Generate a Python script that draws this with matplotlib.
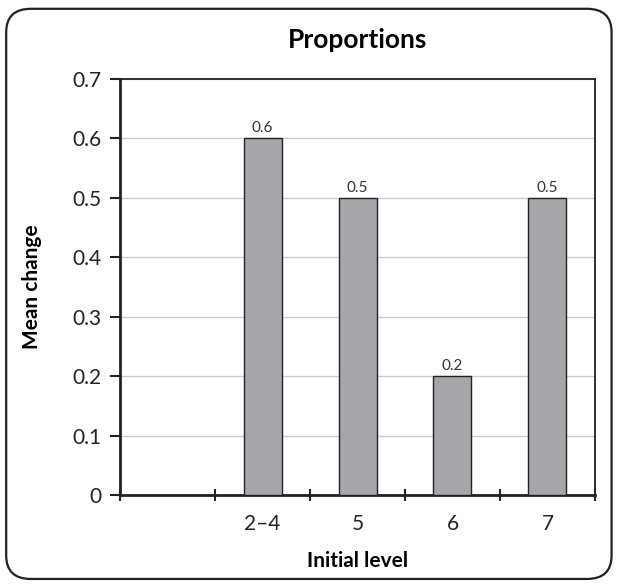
import matplotlib
matplotlib.use('Agg')
import matplotlib.pyplot as plt
from matplotlib.patches import FancyBboxPatch
import numpy as np

plt.rcParams['font.family'] = ['Lato', 'DejaVu Sans']

# data
categories = ['', '2–4', '5', '6', '7']
values = [None, 0.6, 0.5, 0.2, 0.5]
value_labels = ['', '0.6', '0.5', '0.2', '0.5']
y_ticks = [0, 0.1, 0.2, 0.3, 0.4, 0.5, 0.6, 0.7]
y_tick_labels = ['0', '0.1', '0.2', '0.3', '0.4', '0.5', '0.6', '0.7']

fig = plt.figure(figsize=(6.19, 5.86), dpi=100)
ax = fig.add_axes([0.1939, 0.1553, 0.7673, 0.7099])

# rounded outer frame
frame = FancyBboxPatch((0.01, 0.012), 0.978, 0.973,
                       boxstyle='round,pad=0,rounding_size=0.04',
                       transform=fig.transFigure, facecolor='none',
                       edgecolor='#222222', linewidth=1.6, zorder=0)
fig.patches.append(frame)

x = np.arange(len(categories))
for i, v in enumerate(values):
    if v is None:
        continue
    ax.bar(x[i], v, width=0.4, color='#a6a7ab', edgecolor='#222222',
           linewidth=1.0, zorder=3)
    ax.text(x[i], v + 0.005, value_labels[i], ha='center', va='bottom',
            fontsize=11, color='#333333')

ax.set_xlim(-0.5, len(categories) - 0.5)
ax.set_ylim(0, 0.7)
ax.set_yticks(y_ticks)
ax.set_yticklabels(y_tick_labels, fontsize=15, color='#222222')
ax.yaxis.grid(True, color='#cccccc', linewidth=1.0, zorder=0)
ax.set_axisbelow(True)

# ticks at category boundaries, labels centred
ax.set_xticks(np.arange(len(categories) + 1) - 0.5)
ax.set_xticklabels([])
ax.set_xticks(x, minor=True)
ax.set_xticklabels(categories, minor=True, fontsize=15, color='#222222')
ax.tick_params(axis='x', which='minor', length=0, pad=14)
ax.tick_params(axis='x', which='major', length=8, width=1.5, direction='inout',
               color='#222222')
ax.tick_params(axis='y', length=7, width=1.5, direction='out', color='#222222',
               pad=6)

for s in ax.spines.values():
    s.set_color('#222222')
ax.spines['left'].set_linewidth(2.0)
ax.spines['bottom'].set_linewidth(2.0)
ax.spines['top'].set_linewidth(1.3)
ax.spines['right'].set_linewidth(1.3)

ax.set_xlabel('Initial level', fontsize=15, fontweight='bold', labelpad=12)
ax.set_ylabel('Mean change', fontsize=15, fontweight='bold', labelpad=22)
ax.set_title('Proportions', fontsize=19, fontweight='bold', pad=22)

plt.savefig('out.png', dpi=100)
plt.close()
